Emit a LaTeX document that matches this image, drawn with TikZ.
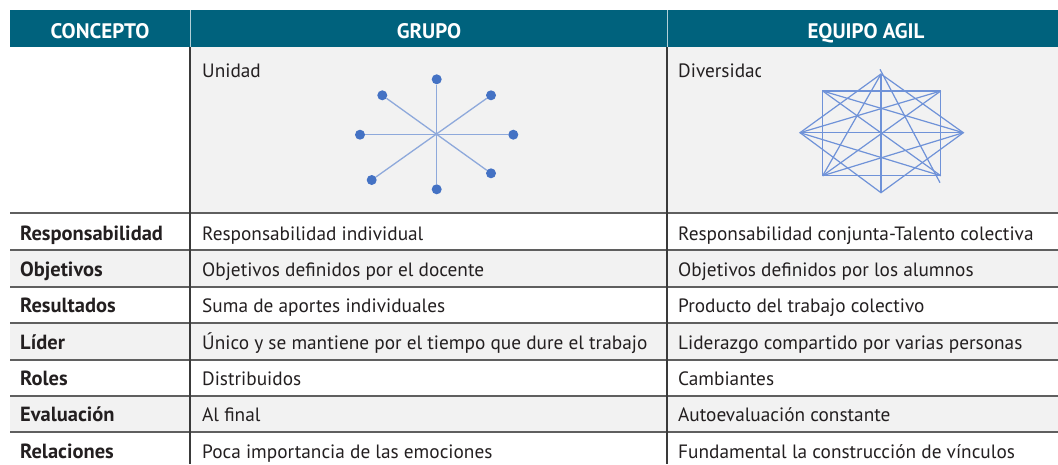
\documentclass[tikz,border=0pt]{standalone}
\usepackage{fontspec}
\setmainfont{PT Sans}

\definecolor{headteal}{HTML}{00627D}
\definecolor{cellgray}{HTML}{F2F2F2}
\definecolor{rulegray}{HTML}{5F5F5F}
\definecolor{inkline}{HTML}{3A3A3A}
\definecolor{dotblue}{HTML}{4472C4}
\definecolor{spokeblue}{HTML}{8EA9DB}
\definecolor{meshblue}{HTML}{6F92D8}
\definecolor{inktext}{HTML}{231F20}

\tikzset{
	head/.style={text=white, font=\fontsize{21}{24}\selectfont\bfseries, anchor=base},
	concepto/.style={text=inktext, font=\fontsize{20.5}{24}\selectfont\bfseries, anchor=base west, inner sep=0pt},
	celltext/.style={text=inktext, font=\fontsize{19.3}{23}\selectfont, anchor=base west, inner sep=0pt},
	hrule/.style={rulegray, line width=2pt},
	vrule/.style={inkline, line width=1.5pt},
	spoke/.style={spokeblue, line width=1.3pt},
	bead/.style={circle, fill=dotblue, inner sep=0pt, minimum size=10pt},
	mesh/.style={meshblue, line width=1.2pt},
}

\begin{document}
\begin{tikzpicture}[x=1pt, y=-1pt]
		\useasboundingbox (0, 0) rectangle (1058, 464);
		% fondos
		\fill [headteal] (10, 10) rectangle (1058, 47);
		\fill [cellgray] (190, 47) rectangle (1058, 213);
		\fill [cellgray] (10, 250) rectangle (1058, 287);
		\fill [cellgray] (10, 323) rectangle (1058, 360);
		\fill [cellgray] (10, 396) rectangle (1058, 432);
		\draw [white!70!headteal, line width=1pt] (190, 10) -- (190, 47);
		\draw [white!70!headteal, line width=1pt] (667, 10) -- (667, 47);
		% encabezado
		\node [head] (H_Concepto) at (100, 38) {CONCEPTO};
		\node [head] (H_Grupo) at (429, 38) {GRUPO};
		\node [head] (H_Equipo) at (866, 38) {EQUIPO AGIL};
		% lineas
		\draw [hrule] (10, 213) -- (1058, 213);
		\draw [hrule] (10, 250) -- (1058, 250);
		\draw [hrule] (10, 287) -- (1058, 287);
		\draw [hrule] (10, 323) -- (1058, 323);
		\draw [hrule] (10, 360) -- (1058, 360);
		\draw [hrule] (10, 396) -- (1058, 396);
		\draw [hrule] (10, 432) -- (1058, 432);
		\draw [vrule] (190, 47) -- (190, 464);
		\draw [vrule] (667, 47) -- (667, 464);
		% fila de figuras
		\node [celltext] (G_Unidad) at (202, 77) {Unidad};
		\begin{scope}
			\clip (670, 50) rectangle (760, 90);
			\node [celltext] (E_Diversidad) at (678, 77) {Diversidad};
		\end{scope}
		% estrella del grupo
		\node [bead] (S_T) at (436.7, 79.3) {};
		\node [bead] (S_TL) at (382.3, 95.3) {};
		\node [bead] (S_TR) at (491, 95.3) {};
		\node [bead] (S_L) at (360, 134.7) {};
		\node [bead] (S_R) at (513.3, 134.7) {};
		\node [bead] (S_BL) at (371.7, 180) {};
		\node [bead] (S_B) at (436.7, 189.3) {};
		\node [bead] (S_BR) at (491, 173.3) {};
		\draw [spoke] (S_T) -- (S_B);
		\draw [spoke] (S_L) -- (S_R);
		\draw [spoke] (S_TL) -- (S_BR);
		\draw [spoke] (S_TR) -- (S_BL);
		% red del equipo
		\coordinate (M_T) at (881, 74);
		\coordinate (M_Top) at (880, 69.3);
		\coordinate (M_TL) at (822.7, 91);
		\coordinate (M_TR) at (940.7, 91);
		\coordinate (M_L) at (800, 132.7);
		\coordinate (M_R) at (963.3, 132.7);
		\coordinate (M_BL) at (822.7, 175.7);
		\coordinate (M_BR) at (940.7, 175.7);
		\coordinate (M_B) at (881, 192.7);
		\coordinate (M_End) at (940, 182.7);
		\draw [mesh] (M_TL) -- (M_TR) -- (M_BR) -- (M_BL) -- cycle;
		\draw [mesh] (M_T) -- (M_R) -- (M_B) -- (M_L) -- cycle;
		\draw [mesh] (M_L) -- (M_R);
		\draw [mesh] (M_T) -- (M_B);
		\draw [mesh] (M_TL) -- (M_BR);
		\draw [mesh] (M_TR) -- (M_BL);
		\draw [mesh] (M_TL) -- (M_R);
		\draw [mesh] (M_TR) -- (M_L);
		\draw [mesh] (M_BL) -- (M_R);
		\draw [mesh] (M_BR) -- (M_L);
		\draw [mesh] (M_T) -- (M_BL);
		\draw [mesh] (M_Top) -- (M_End);
		% filas
		\node [concepto] (C_Resp) at (20, 240.5) {Responsabilidad};
		\node [celltext] (G_Resp) at (202, 240.5) {Responsabilidad individual};
		\node [celltext] (E_Resp) at (678, 240.5) {Responsabilidad conjunta-Talento colectiva};
		\node [concepto] (C_Obj) at (20, 276.5) {Objetivos};
		\node [celltext] (G_Obj) at (202, 276.5) {Objetivos definidos por el docente};
		\node [celltext] (E_Obj) at (678, 276.5) {Objetivos definidos por los alumnos};
		\node [concepto] (C_Res) at (20, 312.5) {Resultados};
		\node [celltext] (G_Res) at (202, 312.5) {Suma de aportes individuales};
		\node [celltext] (E_Res) at (678, 312.5) {Producto del trabajo colectivo};
		\node [concepto] (C_Lider) at (20, 349.5) {Líder};
		\node [celltext] (G_Lider) at (202, 349.5) {Único y se mantiene por el tiempo que dure el trabajo};
		\node [celltext] (E_Lider) at (678, 349.5) {Liderazgo compartido por varias personas};
		\node [concepto] (C_Roles) at (20, 385.5) {Roles};
		\node [celltext] (G_Roles) at (202, 385.5) {Distribuidos};
		\node [celltext] (E_Roles) at (678, 385.5) {Cambiantes};
		\node [concepto] (C_Eval) at (20, 421.5) {Evaluación};
		\node [celltext] (G_Eval) at (202, 421.5) {Al final};
		\node [celltext] (E_Eval) at (678, 421.5) {Autoevaluación constante};
		\node [concepto] (C_Rel) at (20, 458.5) {Relaciones};
		\node [celltext] (G_Rel) at (202, 458.5) {Poca importancia de las emociones};
		\node [celltext] (E_Rel) at (678, 458.5) {Fundamental la construcción de vínculos};
	\end{tikzpicture}
\end{document}
